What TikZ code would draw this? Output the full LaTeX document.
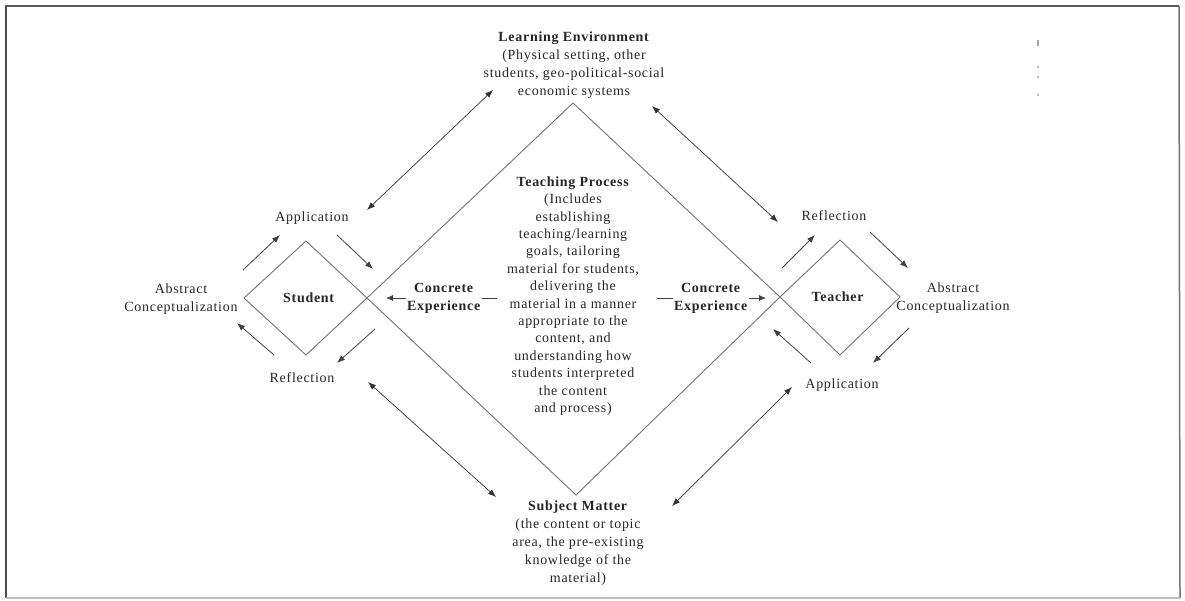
\documentclass[tikz,border=0pt]{standalone}
\usepackage{fontspec}
\setmainfont{Liberation Serif}[LetterSpace=5]
\usetikzlibrary{arrows.meta}
\begin{document}
\begin{tikzpicture}[x=1pt,y=-1pt,
  txt/.style={font=\fontsize{14}{17.4}\selectfont, align=center, inner sep=1pt, text=black!85},
  hdr/.style={txt, font=\fontsize{14}{18}\selectfont},
  cover/.style={txt, fill=white},
  rim/.style={draw=black!55, line width=0.9pt},
  cyc/.style={draw=black!75, line width=0.8pt, -{Latex[length=8pt,width=6pt]}},
  link/.style={draw=black!80, line width=0.7pt, {Latex[length=8pt,width=6pt]}-{Latex[length=8pt,width=6pt]}},
  flow/.style={draw=black!75, line width=0.8pt, -{Latex[length=7pt,width=6pt]}}]
\useasboundingbox (0,0) rectangle (1185,600);

% outer frame
\draw[black!70, line width=2pt] (6,5) -- (6,598);
\draw[black!65, line width=1.5pt] (5,6) -- (1179,6);
\draw[black!55, line width=1.5pt] (1179,6) -- (1180,598);
\draw[black!25, line width=1.2pt] (6,598) -- (1180,598);

% faint marks near the upper right corner
\fill[black!35] (1037,40) rectangle (1039,46);
\fill[black!25] (1037,66) rectangle (1039,68);
\fill[black!25] (1037,76) rectangle (1039,78);
\fill[black!25] (1037,94) rectangle (1039,96);

% corner points of the three diamonds
\coordinate (bigT) at (573,103);
\coordinate (bigL) at (367,298);
\coordinate (bigB) at (576,495);
\coordinate (bigR) at (780,297);
\coordinate (sT) at (306,241);
\coordinate (sL) at (244,298);
\coordinate (sB) at (306,355);
\coordinate (tT) at (840,240);
\coordinate (tR) at (900,297);
\coordinate (tB) at (840,355);

\draw[rim] (bigT) -- (bigR) -- (bigB) -- (bigL) -- cycle;
\draw[rim] (sT) -- (bigL) -- (sB) -- (sL) -- cycle;
\draw[rim] (tT) -- (tR) -- (tB) -- (bigR) -- cycle;

% labels
\node[hdr] (env) at (574,65) {\textbf{Learning Environment}\\(Physical setting, other\\students, geo-political-social\\economic systems};
\node[txt] (proc) at (573,296) {\textbf{Teaching Process}\\(Includes\\establishing\\teaching/learning\\goals, tailoring\\material for students,\\delivering the\\material in a manner\\appropriate to the\\content, and\\understanding how\\students interpreted\\the content\\and process)};
\node[hdr] (subj) at (578,543) {\textbf{Subject Matter}\\(the content or topic\\area, the pre-existing\\knowledge of the\\material)};

\node[txt] (student) at (309,298) {\textbf{Student}};
\node[txt] (teacher) at (838,297) {\textbf{Teacher}};

\node[txt] (sApp) at (312,218) {Application};
\node[txt] (sRef) at (302,378) {Reflection};
\node[hdr] (sAbs) at (181,299) {Abstract\\Conceptualization};

\node[txt] (tRef) at (834,216) {Reflection};
\node[txt] (tApp) at (842,385) {Application};
\node[hdr] (tAbs) at (953,298) {Abstract\\Conceptualization};

% concrete experience arrows, partly hidden behind their labels
\coordinate (sCeA) at (497,298);
\coordinate (sCeB) at (386,298);
\coordinate (tCeA) at (657,298);
\coordinate (tCeB) at (766,298);
\draw[flow] (sCeA) -- (sCeB);
\draw[flow] (tCeA) -- (tCeB);
\node[cover, font=\fontsize{14}{18}\selectfont] (sCe) at (444,298) {\textbf{Concrete}\\\textbf{Experience}};
\node[cover, font=\fontsize{14}{18}\selectfont] (tCe) at (711,298) {\textbf{Concrete}\\\textbf{Experience}};

% learning cycle around the student
\coordinate (s1a) at (243,270); \coordinate (s1b) at (280,235);
\coordinate (s2a) at (337,235); \coordinate (s2b) at (373,269);
\coordinate (s3a) at (375,329); \coordinate (s3b) at (337,363);
\coordinate (s4a) at (274,355); \coordinate (s4b) at (237,323);
\draw[cyc] (s1a) -- (s1b);
\draw[cyc] (s2a) -- (s2b);
\draw[cyc] (s3a) -- (s3b);
\draw[cyc] (s4a) -- (s4b);

% learning cycle around the teacher
\coordinate (t1a) at (782,268); \coordinate (t1b) at (815,235);
\coordinate (t2a) at (870,232); \coordinate (t2b) at (908,268);
\coordinate (t3a) at (909,328); \coordinate (t3b) at (873,363);
\coordinate (t4a) at (811,363); \coordinate (t4b) at (773,329);
\draw[cyc] (t1a) -- (t1b);
\draw[cyc] (t2a) -- (t2b);
\draw[cyc] (t3a) -- (t3b);
\draw[cyc] (t4a) -- (t4b);

% links between the contexts and the cycles
\coordinate (l1a) at (367,210); \coordinate (l1b) at (493,90);
\coordinate (l2a) at (652,106); \coordinate (l2b) at (778,222);
\coordinate (l3a) at (368,382); \coordinate (l3b) at (496,497);
\coordinate (l4a) at (672,506); \coordinate (l4b) at (792,387);
\draw[link] (l1a) -- (l1b);
\draw[link] (l2a) -- (l2b);
\draw[link] (l3a) -- (l3b);
\draw[link] (l4a) -- (l4b);
\end{tikzpicture}
\end{document}
